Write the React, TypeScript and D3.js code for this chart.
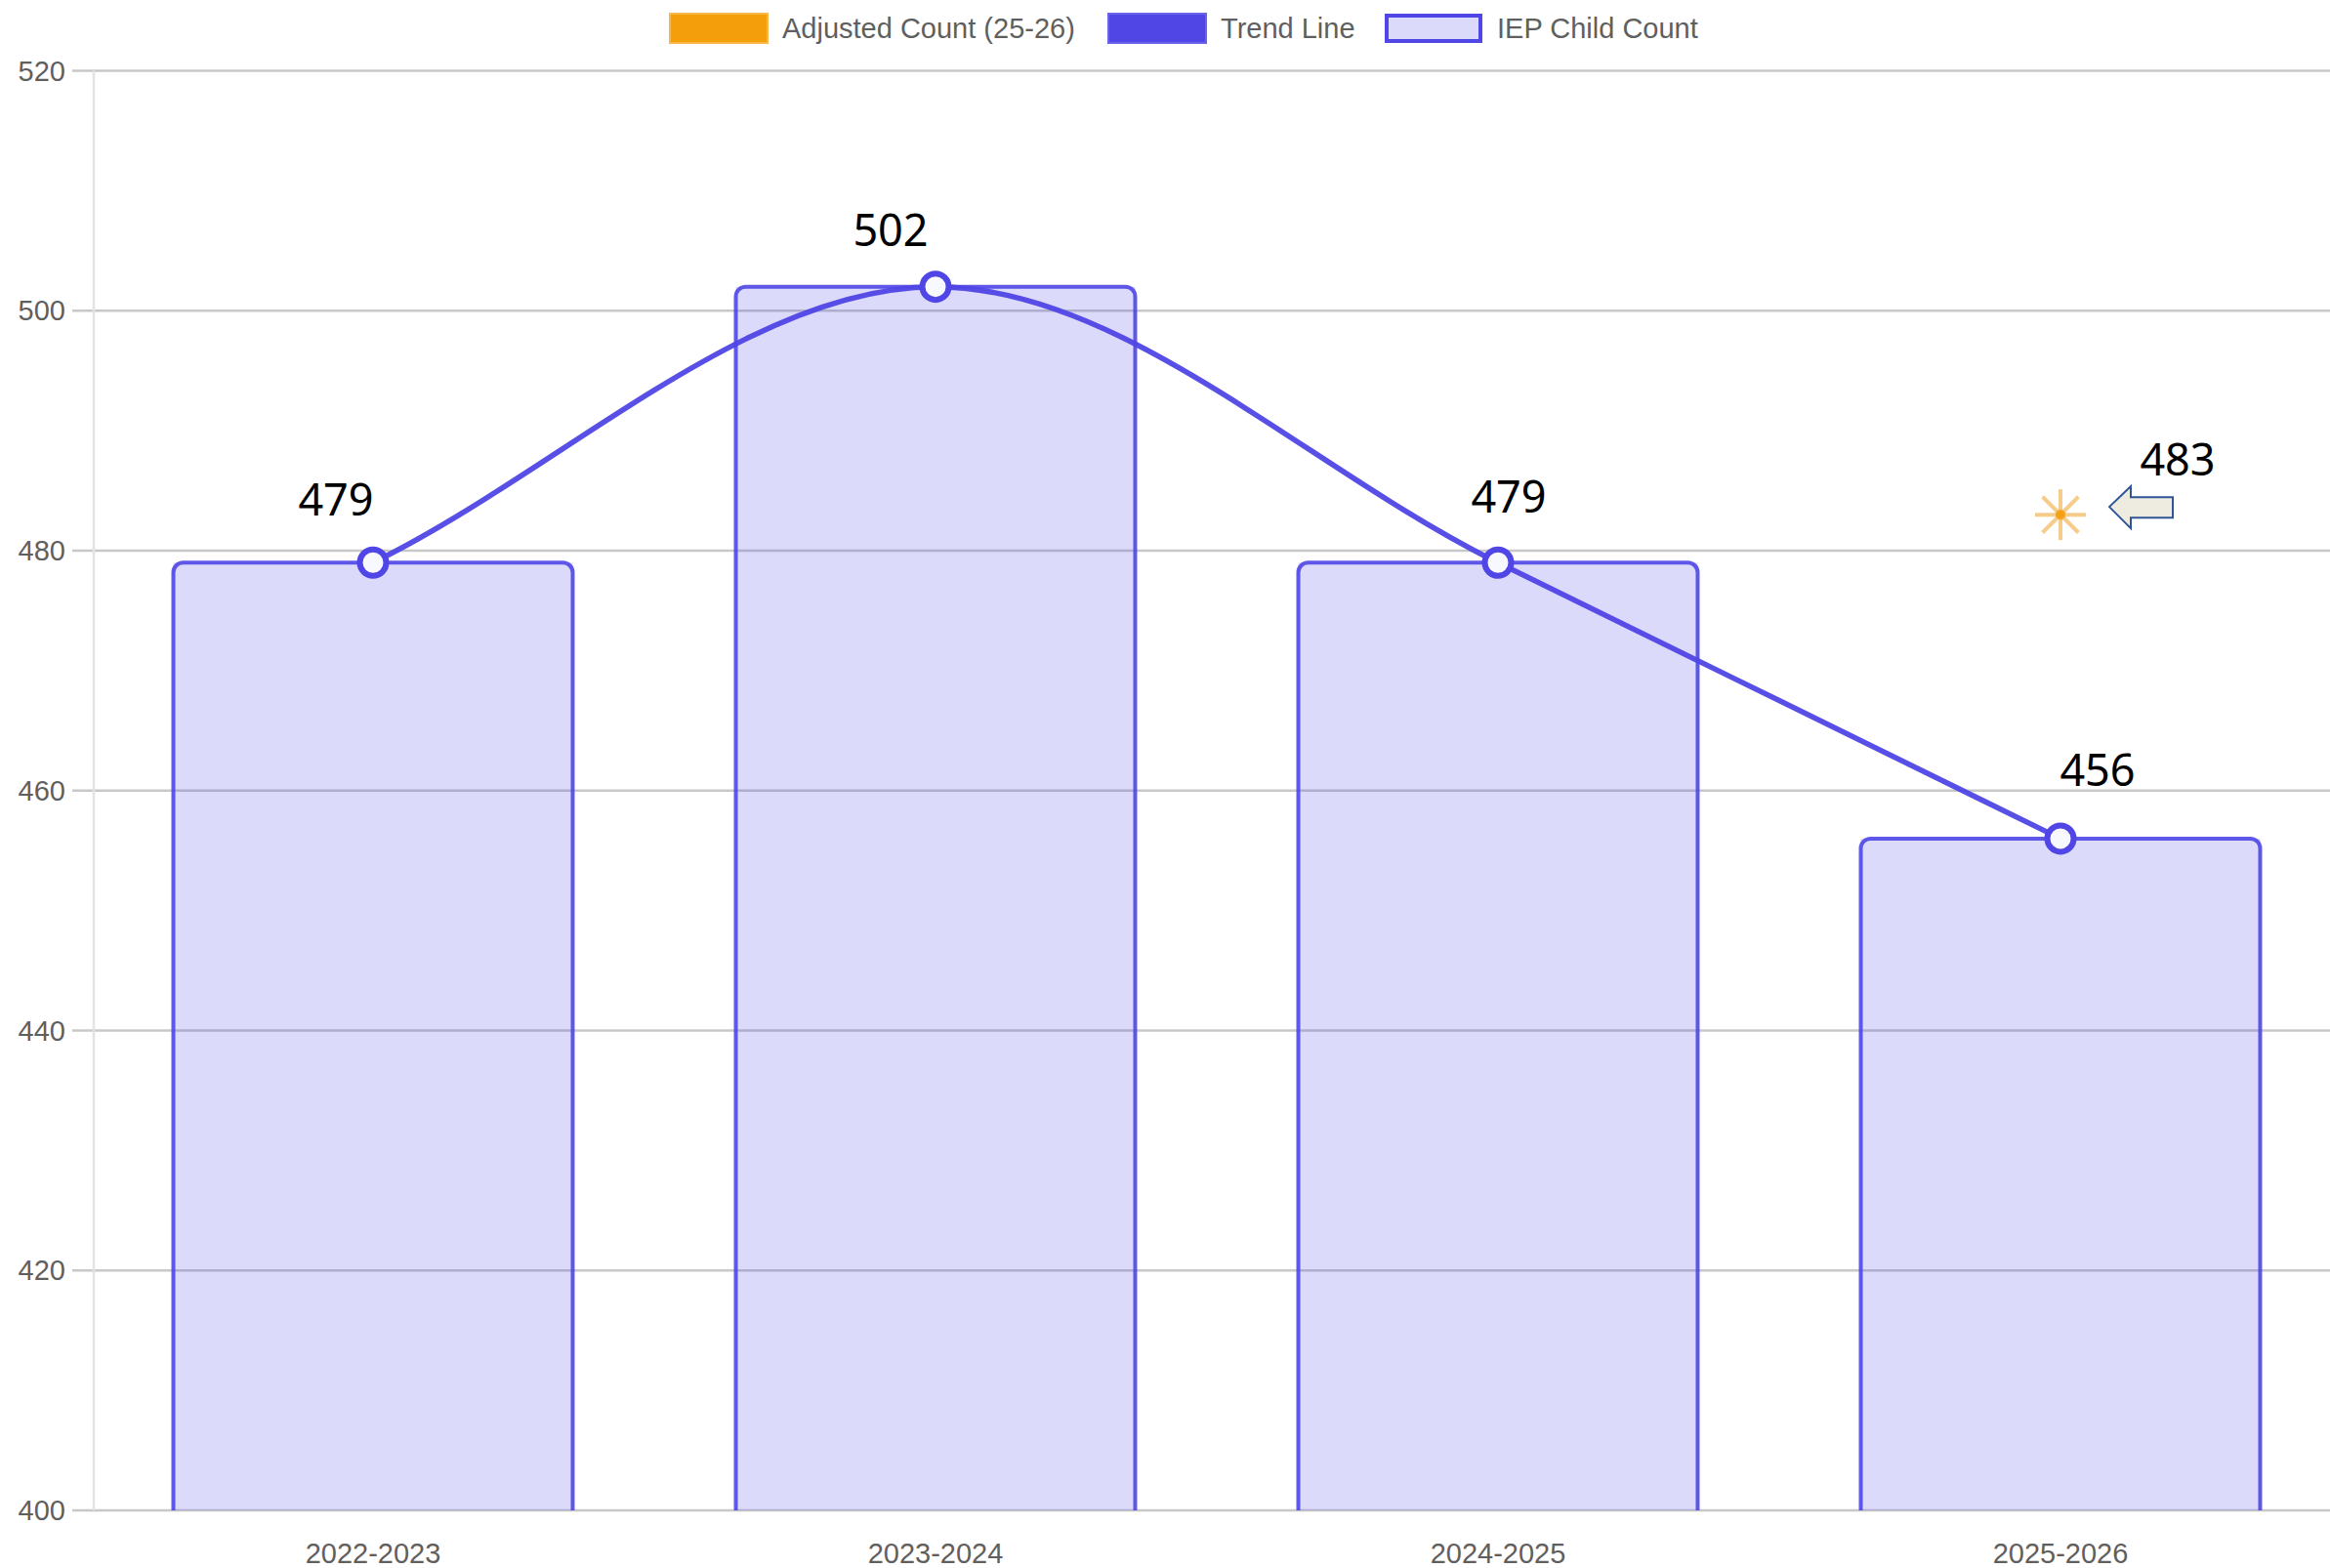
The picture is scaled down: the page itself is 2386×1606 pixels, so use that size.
import React from 'react';
import * as d3 from 'd3';

const categories = ['2022-2023', '2023-2024', '2024-2025', '2025-2026'];
const iepCounts = [479, 502, 479, 456];
const adjustedCategory = '2025-2026';
const adjustedCount = 483;
const yTicks = [400, 420, 440, 460, 480, 500, 520];
const legendLabels = ['Adjusted Count (25-26)', 'Trend Line', 'IEP Child Count'];
// label offsets (dx, dy) relative to the data point, in px
const labelOffsets: [number, number][] = [[-38, -48], [-46, -42], [11, -51], [38, -54]];

const W = 2386;
const H = 1606;
const INDIGO = '#4f46e5';
const ORANGE = '#f59e0b';
const BAR_FILL = 'rgba(79,70,229,0.2)';
const GRID = '#c8c8c8';
const AXIS_FONT = '"Liberation Sans", Arial, Helvetica, sans-serif';
const LABEL_FONT = '"Noto Sans", "Open Sans", sans-serif';

function monotonePath(pts: [number, number][]): string {
  const n = pts.length;
  const delta: number[] = [];
  for (let i = 0; i < n - 1; i++) {
    delta.push((pts[i + 1][1] - pts[i][1]) / (pts[i + 1][0] - pts[i][0]));
  }
  const m: number[] = [];
  for (let i = 0; i < n; i++) {
    if (i === 0) m.push(delta[0]);
    else if (i === n - 1) m.push(delta[n - 2]);
    else if (delta[i - 1] * delta[i] <= 0) m.push(0);
    else m.push((delta[i - 1] + delta[i]) / 2);
  }
  const p = d3.path();
  p.moveTo(pts[0][0], pts[0][1]);
  for (let i = 0; i < n - 1; i++) {
    const dx = (pts[i + 1][0] - pts[i][0]) / 3;
    p.bezierCurveTo(
      pts[i][0] + dx, pts[i][1] + m[i] * dx,
      pts[i + 1][0] - dx, pts[i + 1][1] - m[i + 1] * dx,
      pts[i + 1][0], pts[i + 1][1]
    );
  }
  return p.toString();
}

function topRoundedRect(x: number, y: number, w: number, h: number, r: number): string {
  const p = d3.path();
  p.moveTo(x, y + h);
  p.lineTo(x, y + r);
  p.arcTo(x, y, x + r, y, r);
  p.lineTo(x + w - r, y);
  p.arcTo(x + w, y, x + w, y + r, r);
  p.lineTo(x + w, y + h);
  return p.toString();
}

export default function App() {
  const plotLeft = 96;
  const x = d3.scaleBand<string>().domain(categories).range([94, 2398]).paddingInner(0).paddingOuter(0);
  const y = d3.scaleLinear().domain([400, 520]).range([1547, 72.5]);
  const barW = x.bandwidth() * 0.71;
  const cx = (c: string) => (x(c) as number) + x.bandwidth() / 2;

  const pts: [number, number][] = categories.map((c, i) => [cx(c), y(iepCounts[i])]);

  const sx = cx(adjustedCategory);
  const sy = y(adjustedCount);
  const spokes = d3.range(4).map((k) => (k * Math.PI) / 4);

  const legendBoxX = [686, 1135, 1418];

  return (
    <svg width={W} height={H} style={{ position: 'absolute', left: 0, top: 0, background: '#fff' }}>
      {/* grid lines */}
      {yTicks.map((t) => (
        <line key={'g' + t} x1={74} x2={W} y1={y(t)} y2={y(t)} stroke={GRID} strokeWidth={2.5} />
      ))}
      <line x1={plotLeft} x2={plotLeft} y1={y(520)} y2={y(400)} stroke="#e3e3e3" strokeWidth={2.5} />
      {/* y tick labels */}
      {yTicks.map((t) => (
        <text key={'t' + t} x={67} y={y(t)} textAnchor="end" dominantBaseline="central"
          fontFamily={AXIS_FONT} fontSize={29} fill="#5f5f5f">{t}</text>
      ))}
      {/* x tick labels */}
      {categories.map((c) => (
        <text key={'x' + c} x={cx(c)} y={1601} textAnchor="middle"
          fontFamily={AXIS_FONT} fontSize={29} fill="#5f5f5f">{c}</text>
      ))}
      {/* bars */}
      {categories.map((c, i) => {
        const bx = cx(c) - barW / 2;
        const by = y(iepCounts[i]);
        const bh = y(400) - by;
        return (
          <g key={'b' + c}>
            <rect x={bx} y={by} width={barW} height={bh} fill={BAR_FILL} />
            <path d={topRoundedRect(bx, by, barW, bh, 10)} fill="none" stroke={INDIGO} strokeOpacity={0.9} strokeWidth={4} />
          </g>
        );
      })}
      {/* trend line */}
      <path d={monotonePath(pts)} fill="none" stroke={INDIGO} strokeWidth={5.5} strokeOpacity={0.95} />
      {pts.map((p, i) => (
        <circle key={'p' + i} cx={p[0]} cy={p[1]} r={13.5} fill="#f8f8ff" stroke={INDIGO} strokeWidth={6} />
      ))}
      {/* adjusted count star */}
      <g>
        {spokes.map((a, k) => (
          <line key={'s' + k}
            x1={sx - Math.cos(a) * 26} y1={sy - Math.sin(a) * 26}
            x2={sx + Math.cos(a) * 26} y2={sy + Math.sin(a) * 26}
            stroke="rgba(240,170,60,0.6)" strokeWidth={4} />
        ))}
        <circle cx={sx} cy={sy} r={5} fill={ORANGE} opacity={0.85} />
      </g>
      {/* arrow */}
      <path
        d={`M${sx + 50},${sy - 8} L${sx + 72},${sy - 29} L${sx + 72},${sy - 18} L${sx + 115},${sy - 18} L${sx + 115},${sy + 3} L${sx + 72},${sy + 3} L${sx + 72},${sy + 14} Z`}
        fill="#eeece1" stroke="#2f5597" strokeWidth={2} strokeLinejoin="miter" />
      {/* value labels */}
      {pts.map((p, i) => (
        <text key={'l' + i} x={p[0] + labelOffsets[i][0]} y={p[1] + labelOffsets[i][1]} textAnchor="middle"
          fontFamily={LABEL_FONT} fontSize={45} fill="#000">{iepCounts[i]}</text>
      ))}
      <text x={sx + 120} y={sy - 40} textAnchor="middle" fontFamily={LABEL_FONT} fontSize={45} fill="#000">{adjustedCount}</text>
      {/* legend */}
      <g>
        <rect x={legendBoxX[0]} y={14} width={100} height={30} fill={ORANGE} stroke="#f7b84a" strokeWidth={2} />
        <rect x={legendBoxX[1]} y={14} width={100} height={30} fill={INDIGO} stroke="#6a62ea" strokeWidth={2} />
        <rect x={legendBoxX[2] + 2} y={16} width={96} height={26} fill={BAR_FILL} stroke={INDIGO} strokeWidth={4} />
        {legendLabels.map((l, i) => (
          <text key={'lg' + i} x={legendBoxX[i] + 115} y={29} dominantBaseline="central"
            fontFamily={AXIS_FONT} fontSize={29} fill="#5f5f5f">{l}</text>
        ))}
      </g>
    </svg>
  );
}
